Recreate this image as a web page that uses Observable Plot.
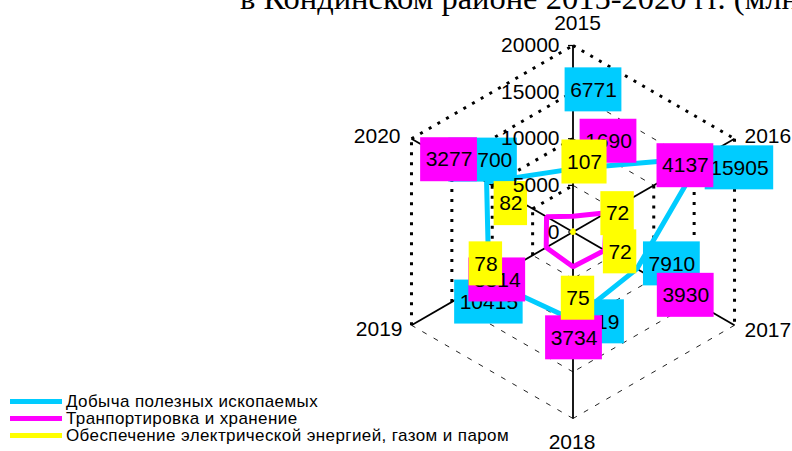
<!DOCTYPE html>
<html><head><meta charset="utf-8">
<script src="https://cdn.jsdelivr.net/npm/d3@7"></script>
<script src="https://cdn.jsdelivr.net/npm/@observablehq/plot@0.6"></script>
<style>
body{margin:0;background:#fff;}
#wrap{position:relative;width:792px;height:451px;overflow:hidden;font-family:"Liberation Sans",Arial,sans-serif;}
#chart{position:absolute;left:0;top:0;}
#title{position:absolute;left:240px;top:-17.7px;font-family:"Liberation Serif","Times New Roman",serif;font-size:32.5px;line-height:32.5px;white-space:nowrap;color:#000;}
#legend{position:absolute;left:10px;top:393px;font-size:17px;letter-spacing:0.4px;color:#000;}
.item{display:flex;align-items:center;height:17px;white-space:nowrap;}
.sw{width:52px;height:5px;margin-right:4px;}
</style></head>
<body>
<div id="wrap"><div id="chart"></div><div id="title">в Кондинском районе 2015-2020 гг. (млн. руб.)</div><div id="legend"></div></div>
<script>
// ---- data ----
const years = ["2015", "2016", "2017", "2018", "2019", "2020"];
const seriesNames = ["Добыча полезных ископаемых", "Транпортировка и хранение", "Обеспечение электрической энергией, газом и паром"];
const mining = [6771, 15905, 7910, 9419, 10415, 10700];
const transport = [1690, 4137, 3930, 3734, 3314, 3277];
const energy = [107, 72, 72, 75, 78, 82];
const levels = [0, 5000, 10000, 15000, 20000];
const maxValue = 20000;

// ---- styling / layout ----
const colors = ["#00CCFF", "#FF00FF", "#FFFF00"];
const W = 792, H = 451, cx = 572.5, cy = 231.5, R = 186.5;
const u = maxValue / R; // data units per pixel
// label nudges (pixels) relative to each data point, as placed in the reference
const labelNudge = [
  [[20.5, -79], [38, 10], [35, -5], [23, 2], [0, 21.5], [-3.5, -22]],
  [[35.5, -75], [79, -47], [81, 45], [1, 71], [-49, 32.5], [-97.5, -57]],
  [[11.5, -69], [44, -18], [46.5, 19.5], [5, 65.5], [-86.5, 31.5], [-61.5, -28]]
];
const yearNudge = [[4.5, -22], [10, -2], [10, 5], [-1, 23.5], [-9, 4], [-11, -2]];
const yearAnchor = ["middle", "start", "start", "middle", "end", "end"];

const seriesValues = [mining, transport, energy];
const pos = (v, i) => { const a = i * Math.PI / 3; return [v * Math.sin(a), v * Math.cos(a)]; };

// polygons
const lines = [];
seriesValues.forEach((vals, s) => {
  for (let i = 0; i <= vals.length; i++) {
    const k = i % vals.length; const [x, y] = pos(vals[k], k);
    lines.push({s, x, y});
  }
});

// grid segments
const grid = [];
levels.filter(l => l > 0).forEach(L => {
  for (let i = 0; i < 6; i++) {
    const [x1, y1] = pos(L, i), [x2, y2] = pos(L, (i + 1) % 6);
    let style = "dot";
    if (i === 2 || i === 3) style = "dash";
    if (i === 0 && L < maxValue) style = "dash";
    grid.push({x1, y1, x2, y2, style});
  }
});

const axes = years.map((y, i) => { const [x2, y2] = pos(maxValue, i); return {x1: 0, y1: 0, x2, y2}; });

const yearLabels = years.map((t, i) => {
  const [x, y] = pos(maxValue, i);
  return {t, anchor: yearAnchor[i], x: x + yearNudge[i][0] * u, y: y - yearNudge[i][1] * u};
});

const labels = seriesValues.map((vals, s) => vals.map((v, i) => {
  const [px, py] = pos(v, i);
  const n = String(v).length;
  const hw = (10 + n * 11.7) / 2 * u, hh = 22 * u;
  const lx = px + labelNudge[s][i][0] * u, ly = py - labelNudge[s][i][1] * u;
  return {s, v, lx, ly, x1: lx - hw, x2: lx + hw, y1: ly - hh, y2: ly + hh};
}));

const font = "Liberation Sans, Arial, sans-serif";
const marks = [
  Plot.link(grid.filter(d => d.style === "dot"), {x1: "x1", y1: "y1", x2: "x2", y2: "y2", stroke: "#000", strokeWidth: 3, strokeDasharray: "3,7", strokeLinecap: "butt"}),
  Plot.link(grid.filter(d => d.style === "dash"), {x1: "x1", y1: "y1", x2: "x2", y2: "y2", stroke: "#222", strokeWidth: 1, strokeDasharray: "5,8"}),
  Plot.link(axes, {x1: "x1", y1: "y1", x2: "x2", y2: "y2", stroke: "#000", strokeWidth: 1.8}),
  Plot.link(levels, {x1: 0, x2: -5 * u, y1: d => d, y2: d => d, stroke: "#000", strokeWidth: 1.2}),
  ...["middle", "start", "end"].map(a => Plot.text(yearLabels.filter(d => d.anchor === a), {x: "x", y: "y", text: "t", textAnchor: a, fontSize: 21, fontFamily: font, fill: "#000"})),
  ...[0, 1, 2].map(s => Plot.line(lines.filter(d => d.s === s), {x: "x", y: "y", stroke: colors[s], strokeWidth: 5, strokeLinejoin: "miter"})),
  ...[0, 1, 2].flatMap(s => [
    Plot.rect(labels[s], {x1: "x1", x2: "x2", y1: "y1", y2: "y2", fill: colors[s]}),
    Plot.text(labels[s], {x: "lx", y: "ly", text: d => String(d.v), fontSize: 21, fontFamily: font, fill: "#000"})
  ]),
  Plot.text(levels, {x: 0, y: d => d, text: d => String(d), textAnchor: "end", dx: -13.5, fontSize: 21, fontFamily: font, fill: "#000"})
];

const chart = Plot.plot({
  width: W, height: H, margin: 0,
  x: {domain: [-cx * u, (W - cx) * u], axis: null},
  y: {domain: [-(H - cy) * u, cy * u], axis: null},
  style: {background: "transparent"},
  marks
});
document.getElementById("chart").append(chart);

const legend = document.getElementById("legend");
seriesNames.forEach((name, s) => {
  const it = document.createElement("div"); it.className = "item";
  const sw = document.createElement("div"); sw.className = "sw"; sw.style.background = colors[s];
  const tx = document.createElement("span"); tx.textContent = name;
  it.append(sw, tx); legend.append(it);
});
</script>
</body></html>
